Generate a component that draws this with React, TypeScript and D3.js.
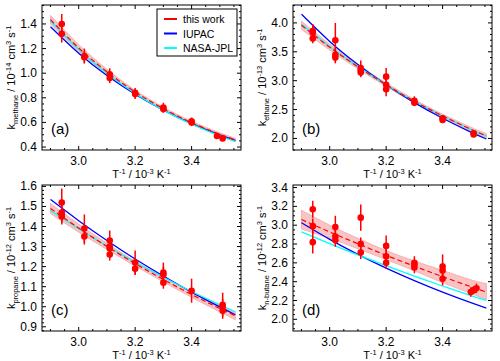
import React, { useEffect, useRef } from 'react';
import * as d3 from 'd3';

const curveX = [2.9, 3.0, 3.1, 3.2, 3.3, 3.4, 3.5, 3.555];

// (a) methane, 10^-14
const methaneWork = [1.435, 1.205, 1.012, 0.847, 0.712, 0.598, 0.503, 0.458];
const methaneHi = [1.47, 1.233, 1.032, 0.862, 0.724, 0.61, 0.516, 0.472];
const methaneLo = [1.4, 1.177, 0.992, 0.832, 0.7, 0.586, 0.49, 0.444];
const methaneIupac = [1.377, 1.162, 0.981, 0.829, 0.7, 0.591, 0.499, 0.455];
const methaneNasa = [1.425, 1.193, 0.999, 0.836, 0.7, 0.586, 0.491, 0.445];
const methaneX = [2.94, 2.94, 3.02, 3.02, 3.11, 3.11, 3.2, 3.2, 3.3, 3.3, 3.4, 3.4, 3.49, 3.51];
const methaneK = [1.4, 1.32, 1.14, 1.13, 0.99, 0.96, 0.84, 0.83, 0.72, 0.71, 0.61, 0.6, 0.49, 0.47];
const methaneErr = [0.08, 0.07, 0.06, 0.05, 0.05, 0.04, 0.04, 0.04, 0.04, 0.03, 0.03, 0.03, 0.02, 0.02];

// (b) ethane, 10^-13
const ethaneWork = [3.96, 3.58, 3.24, 2.93, 2.645, 2.39, 2.16, 2.045];
const ethaneHi = [4.03, 3.63, 3.275, 2.96, 2.675, 2.42, 2.195, 2.085];
const ethaneLo = [3.89, 3.53, 3.205, 2.9, 2.615, 2.36, 2.125, 2.005];
const ethaneIupac = [4.15, 3.68, 3.28, 2.93, 2.62, 2.35, 2.11, 1.99];
const ethaneNasa = [3.977, 3.592, 3.243, 2.929, 2.644, 2.388, 2.157, 2.039];
const ethaneX = [2.94, 2.94, 2.94, 3.02, 3.02, 3.02, 3.11, 3.11, 3.11, 3.2, 3.2, 3.2, 3.3, 3.3, 3.4, 3.4, 3.51, 3.51];
const ethaneK = [3.86, 3.83, 3.73, 3.7, 3.45, 3.4, 3.22, 3.18, 3.14, 3.07, 2.93, 2.85, 2.65, 2.62, 2.35, 2.32, 2.09, 2.07];
const ethaneErr = [0.12, 0.1, 0.08, 0.3, 0.12, 0.1, 0.13, 0.1, 0.08, 0.15, 0.1, 0.12, 0.08, 0.06, 0.05, 0.04, 0.04, 0.04];

// (c) propane, 10^-12
const propaneWork = [1.49, 1.392, 1.301, 1.215, 1.136, 1.061, 0.991, 0.955];
const propaneHi = [1.515, 1.412, 1.316, 1.227, 1.148, 1.075, 1.008, 0.975];
const propaneLo = [1.465, 1.372, 1.286, 1.203, 1.124, 1.047, 0.974, 0.935];
const propaneIupac = [1.535, 1.429, 1.33, 1.238, 1.153, 1.073, 0.999, 0.96];
const propaneNasa = [1.48, 1.389, 1.303, 1.222, 1.147, 1.076, 1.01, 0.975];
const propaneX = [2.94, 2.94, 2.94, 2.94, 3.02, 3.02, 3.11, 3.11, 3.11, 3.11, 3.2, 3.2, 3.3, 3.3, 3.3, 3.4, 3.51, 3.51, 3.51];
const propaneK = [1.52, 1.47, 1.46, 1.45, 1.39, 1.35, 1.33, 1.3, 1.29, 1.26, 1.22, 1.19, 1.17, 1.16, 1.12, 1.08, 1.01, 1.0, 0.98];
const propaneErr = [0.07, 0.04, 0.04, 0.04, 0.07, 0.04, 0.05, 0.04, 0.04, 0.03, 0.06, 0.03, 0.05, 0.04, 0.03, 0.06, 0.06, 0.04, 0.04];

// (d) n-butane, 10^-12
const butaneWork = [3.06, 2.928, 2.803, 2.68, 2.565, 2.453, 2.347, 2.29];
const butaneHi = [3.16, 3.0, 2.86, 2.73, 2.62, 2.52, 2.42, 2.38];
const butaneLo = [2.96, 2.86, 2.75, 2.635, 2.515, 2.39, 2.275, 2.21];
const butaneIupac = [3.026, 2.85, 2.69, 2.544, 2.411, 2.289, 2.177, 2.12];
const butaneNasa = [2.93, 2.805, 2.684, 2.57, 2.46, 2.354, 2.253, 2.2];
const butaneX = [2.94, 2.94, 2.94, 3.02, 3.02, 3.02, 3.11, 3.11, 3.11, 3.2, 3.2, 3.2, 3.3, 3.3, 3.3, 3.4, 3.4, 3.4, 3.5, 3.51, 3.52];
const butaneK = [3.17, 2.99, 2.82, 2.98, 2.88, 2.84, 3.08, 2.8, 2.71, 2.78, 2.67, 2.6, 2.6, 2.58, 2.55, 2.56, 2.52, 2.43, 2.29, 2.31, 2.33];
const butaneErr = [0.09, 0.08, 0.12, 0.12, 0.08, 0.07, 0.14, 0.07, 0.07, 0.11, 0.08, 0.06, 0.07, 0.05, 0.06, 0.13, 0.08, 0.07, 0.05, 0.04, 0.05];

const legendNames = ['this work', 'IUPAC', 'NASA-JPL'];
const xTicks = [3.0, 3.2, 3.4];

const RED = '#ff0000';
const BLUE = '#0000ff';
const CYAN = '#00ffff';
const FONT = '"Liberation Sans", Arial, Helvetica, sans-serif';

type Part = { t: string; s?: 'sub' | 'sup' };

function richText(sel: any, parts: Part[], size: number) {
  let cur = 0;
  parts.forEach((p) => {
    const want = p.s === 'sub' ? size * 0.3 : p.s === 'sup' ? -size * 0.32 : 0;
    const ts = sel.append('tspan').text(p.t).attr('dy', want - cur);
    if (p.s) ts.attr('font-size', size * 0.68);
    cur = want;
  });
}

const App = () => {
  const ref = useRef<SVGSVGElement>(null);

  useEffect(() => {
    const svg = d3.select(ref.current);
    svg.selectAll('*').remove();

    const panels = [
      {
        box: [42, 241, 5, 150], yDomain: [0.376, 1.554], yTicks: [0.4, 0.6, 0.8, 1.0, 1.2, 1.4], yMinor: 0.05,
        work: methaneWork, hi: methaneHi, lo: methaneLo, iupac: methaneIupac, nasa: methaneNasa,
        px: methaneX, pk: methaneK, pe: methaneErr, tag: '(a)', sub: 'methane', exp: '-14', labelX: 11, legend: true,
      },
      {
        box: [293, 492, 5, 150], yDomain: [1.8, 4.31], yTicks: [2.0, 2.5, 3.0, 3.5, 4.0], yMinor: 0.1,
        work: ethaneWork, hi: ethaneHi, lo: ethaneLo, iupac: ethaneIupac, nasa: ethaneNasa,
        px: ethaneX, pk: ethaneK, pe: ethaneErr, tag: '(b)', sub: 'ethane', exp: '-13', labelX: 262, legend: false,
      },
      {
        box: [42, 241, 185, 331], yDomain: [0.879, 1.607], yTicks: [0.9, 1.0, 1.1, 1.2, 1.3, 1.4, 1.5, 1.6], yMinor: 0.02,
        work: propaneWork, hi: propaneHi, lo: propaneLo, iupac: propaneIupac, nasa: propaneNasa,
        px: propaneX, pk: propaneK, pe: propaneErr, tag: '(c)', sub: 'propane', exp: '-12', labelX: 11, legend: false,
      },
      {
        box: [293, 492, 185, 331], yDomain: [1.876, 3.427], yTicks: [2.0, 2.2, 2.4, 2.6, 2.8, 3.0, 3.2, 3.4], yMinor: 0.05,
        work: butaneWork, hi: butaneHi, lo: butaneLo, iupac: butaneIupac, nasa: butaneNasa,
        px: butaneX, pk: butaneK, pe: butaneErr, tag: '(d)', sub: 'n-butane', exp: '-12', labelX: 262, legend: false,
      },
    ];

    panels.forEach((p) => {
      const [x0, x1, y0, y1] = p.box;
      const x = d3.scaleLinear().domain([2.87, 3.575]).range([x0, x1]);
      const y = d3.scaleLinear().domain(p.yDomain).range([y1, y0]);
      const g = svg.append('g');

      const idx = curveX.map((_, i) => i);
      const band = d3.area<number>()
        .x((i) => x(curveX[i]))
        .y0((i) => y(p.lo[i]))
        .y1((i) => y(p.hi[i]))
        .curve(d3.curveNatural);
      g.append('path').attr('d', band(idx)).attr('fill', '#f9c4c4').attr('stroke', '#f5a5a5').attr('stroke-width', 0.8);

      const lineOf = (vals: number[]) =>
        d3.line<number>().x((i) => x(curveX[i])).y((i) => y(vals[i])).curve(d3.curveNatural)(idx);
      g.append('path').attr('d', lineOf(p.iupac)).attr('fill', 'none').attr('stroke', BLUE).attr('stroke-width', 1.3);
      g.append('path').attr('d', lineOf(p.nasa)).attr('fill', 'none').attr('stroke', CYAN).attr('stroke-width', 1.3);
      g.append('path').attr('d', lineOf(p.work)).attr('fill', 'none').attr('stroke', RED)
        .attr('stroke-width', 1.2).attr('stroke-dasharray', '5,3');

      // data points with error bars
      p.px.forEach((xv: number, i: number) => {
        g.append('line')
          .attr('x1', x(xv)).attr('x2', x(xv))
          .attr('y1', y(p.pk[i] - p.pe[i])).attr('y2', y(p.pk[i] + p.pe[i]))
          .attr('stroke', RED).attr('stroke-width', 1.5);
        g.append('circle').attr('cx', x(xv)).attr('cy', y(p.pk[i])).attr('r', 3.3).attr('fill', RED);
      });

      // frame
      g.append('rect').attr('x', x0).attr('y', y0).attr('width', x1 - x0).attr('height', y1 - y0)
        .attr('fill', 'none').attr('stroke', '#000').attr('stroke-width', 1);

      // ticks (inward, mirrored)
      const ticks = g.append('g').attr('stroke', '#000').attr('stroke-width', 1);
      const xMinor = d3.range(2.9, 3.576, 0.05);
      xMinor.forEach((t) => {
        const major = xTicks.some((m) => Math.abs(m - t) < 1e-6);
        const len = major ? 4 : 2;
        ticks.append('line').attr('x1', x(t)).attr('x2', x(t)).attr('y1', y1).attr('y2', y1 - len);
        ticks.append('line').attr('x1', x(t)).attr('x2', x(t)).attr('y1', y0).attr('y2', y0 + len);
      });
      const yStart = Math.ceil(p.yDomain[0] / p.yMinor - 1e-6) * p.yMinor;
      d3.range(yStart, p.yDomain[1] + 1e-6, p.yMinor).forEach((t) => {
        const major = p.yTicks.some((m: number) => Math.abs(m - t) < 1e-6);
        const len = major ? 4 : 2;
        ticks.append('line').attr('x1', x0).attr('x2', x0 + len).attr('y1', y(t)).attr('y2', y(t));
        ticks.append('line').attr('x1', x1).attr('x2', x1 - len).attr('y1', y(t)).attr('y2', y(t));
      });

      const fmt = d3.format('.1f');
      xTicks.forEach((t) => {
        g.append('text').attr('x', x(t)).attr('y', y1 + 15).attr('text-anchor', 'middle')
          .attr('font-size', 12).attr('font-family', FONT).text(fmt(t));
      });
      p.yTicks.forEach((t: number) => {
        g.append('text').attr('x', x0 - 5).attr('y', y(t) + 4).attr('text-anchor', 'end')
          .attr('font-size', 12).attr('font-family', FONT).text(fmt(t));
      });

      // axis titles
      const xt = g.append('text').attr('x', (x0 + x1) / 2).attr('y', y1 + 28).attr('text-anchor', 'middle')
        .attr('font-size', 11).attr('font-family', FONT);
      richText(xt, [{ t: 'T' }, { t: '-1', s: 'sup' }, { t: ' / 10' }, { t: '-3', s: 'sup' }, { t: ' K' }, { t: '-1', s: 'sup' }], 11);

      const yt = g.append('text')
        .attr('transform', `translate(${p.labelX + 4},${(y0 + y1) / 2}) rotate(-90)`)
        .attr('text-anchor', 'middle').attr('font-size', 11).attr('font-family', FONT);
      richText(yt, [
        { t: 'k' }, { t: p.sub, s: 'sub' }, { t: ' / 10' }, { t: p.exp, s: 'sup' },
        { t: ' cm' }, { t: '3', s: 'sup' }, { t: ' s' }, { t: '-1', s: 'sup' },
      ], 11);

      g.append('text').attr('x', x0 + 9).attr('y', y1 - 16).attr('font-size', 15)
        .attr('font-family', FONT).text(p.tag);

      if (p.legend) {
        const lg = g.append('g');
        lg.append('rect').attr('x', 157).attr('y', 9).attr('width', 80).attr('height', 47)
          .attr('fill', '#fff').attr('stroke', '#000').attr('stroke-width', 1);
        [RED, BLUE, CYAN].forEach((c, i) => {
          const ly = 19 + i * 14.5;
          lg.append('line').attr('x1', 164).attr('x2', 177).attr('y1', ly).attr('y2', ly)
            .attr('stroke', c).attr('stroke-width', 2);
          lg.append('text').attr('x', 183).attr('y', ly + 4).attr('font-size', 10.5)
            .attr('font-family', FONT).text(legendNames[i]);
        });
      }
    });
  }, []);

  return (
    <svg
      ref={ref}
      width={500}
      height={361}
      style={{ position: 'absolute', left: 0, top: 0, background: '#fff' }}
    />
  );
};

export default App;
